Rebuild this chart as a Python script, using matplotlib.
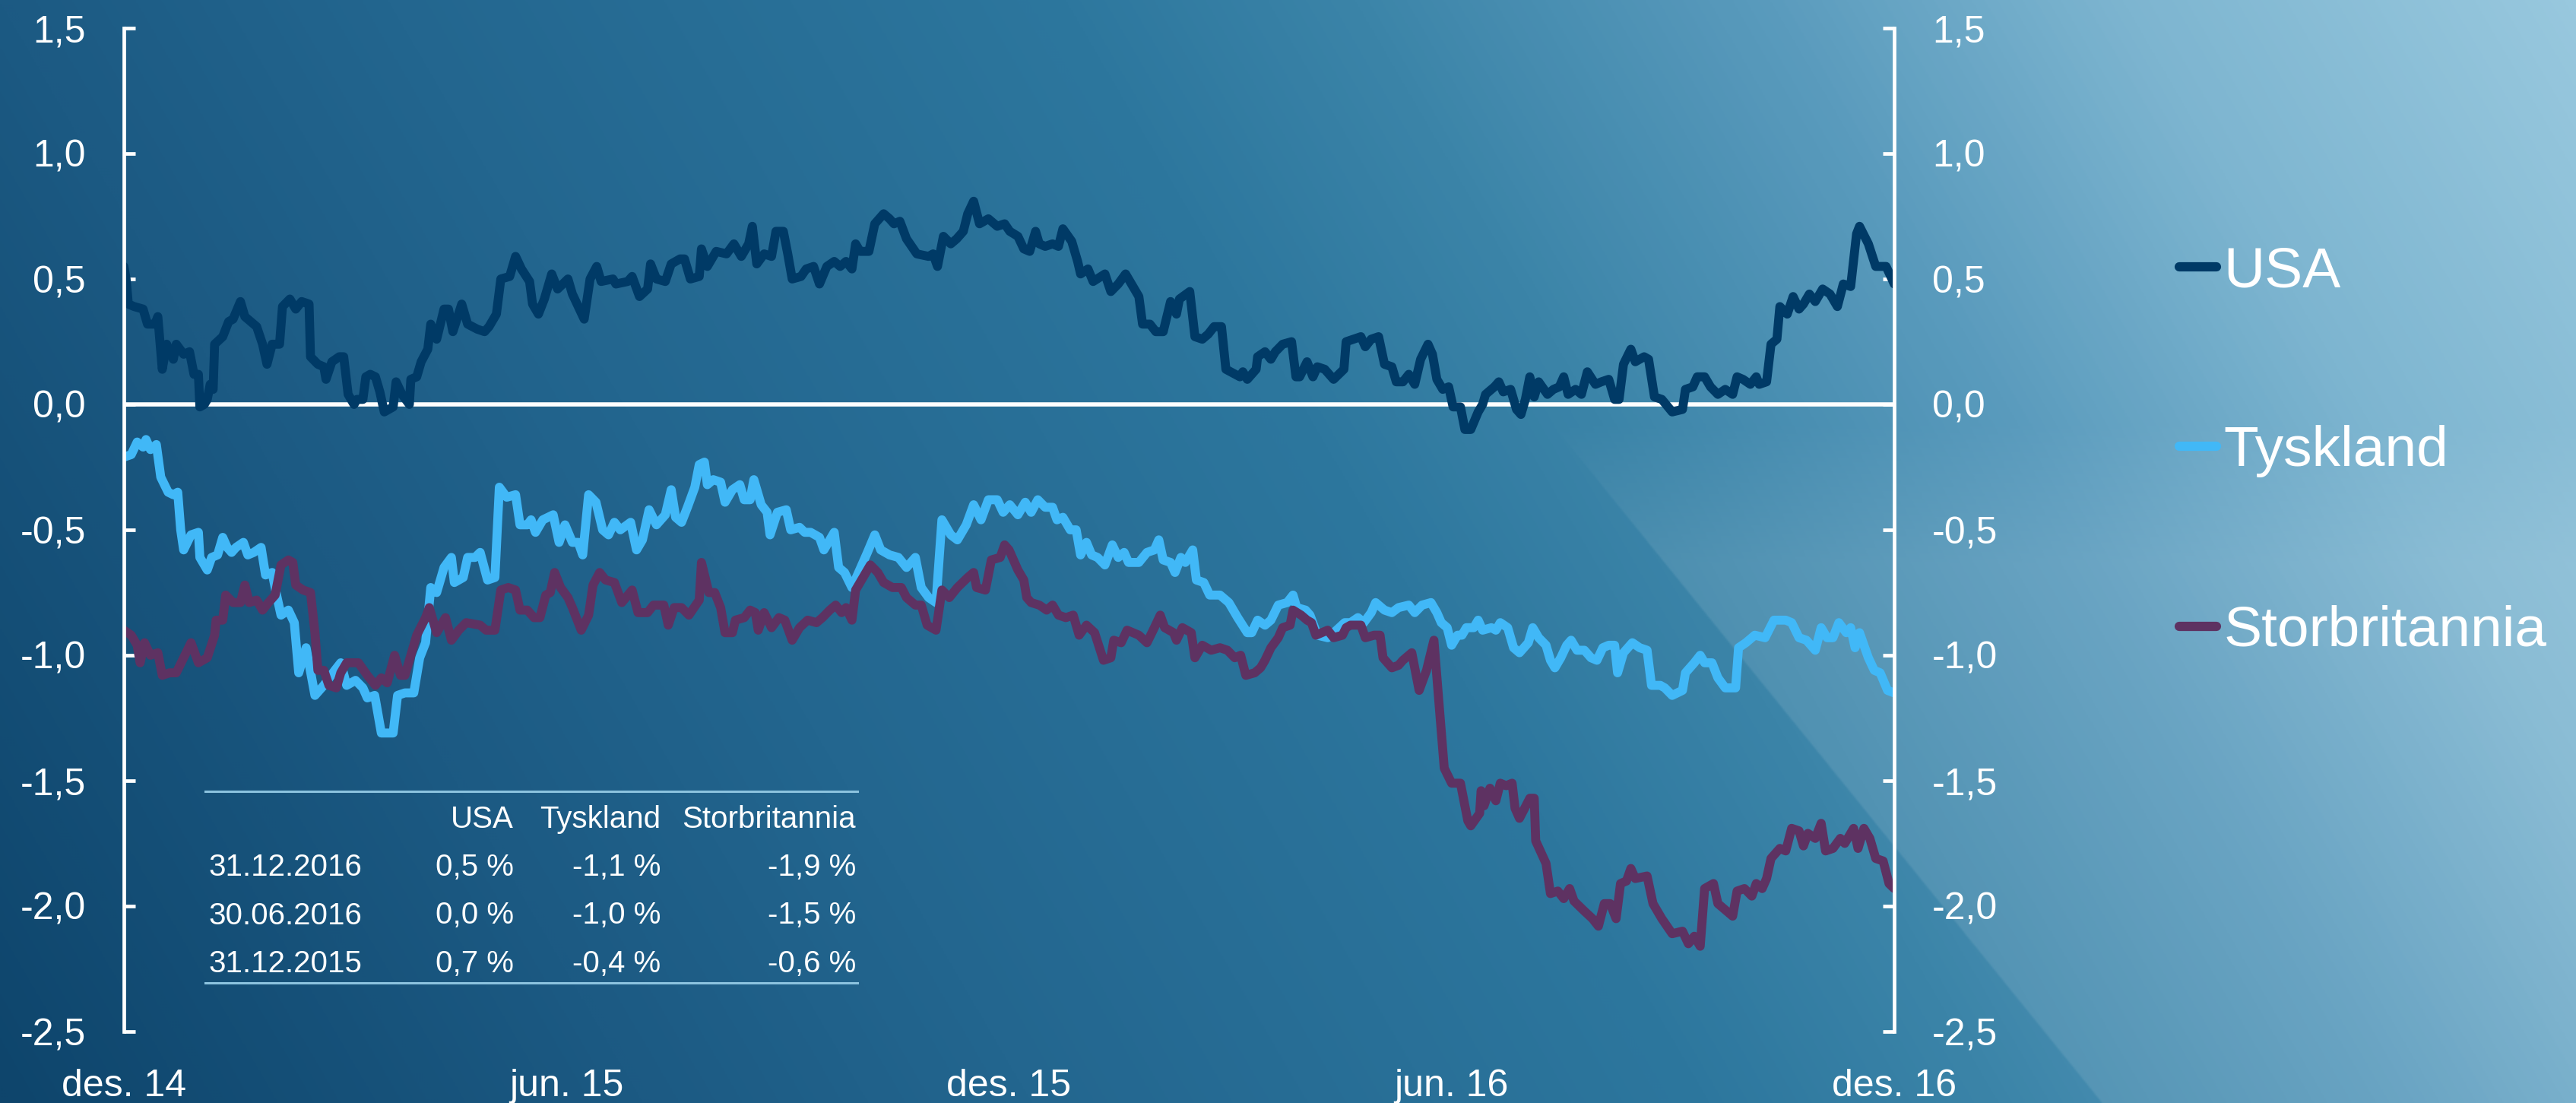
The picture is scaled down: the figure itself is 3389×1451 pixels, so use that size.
import numpy as np
import matplotlib
matplotlib.use("Agg")
import matplotlib.pyplot as plt
from matplotlib.colors import LinearSegmentedColormap
from matplotlib.lines import Line2D

plt.rcParams['font.family'] = ['Liberation Sans', 'DejaVu Sans']

# months after end of Dec 2014, value in percent
usa = [(0.00, 0.55), (0.03, 0.50), (0.06, 0.40), (0.14, 0.39), (0.26, 0.38), (0.32, 0.32), (0.42, 0.32), (0.46, 0.35), (0.52, 0.14),
       (0.58, 0.24), (0.67, 0.18), (0.71, 0.24), (0.81, 0.20), (0.89, 0.21), (0.95, 0.12), (1.01, 0.12), (1.03, -0.01),
       (1.09, 0.00), (1.13, 0.02), (1.17, 0.08), (1.21, 0.06), (1.23, 0.24), (1.34, 0.27), (1.42, 0.33), (1.48, 0.34),
       (1.58, 0.41), (1.64, 0.35), (1.80, 0.31), (1.88, 0.24), (1.94, 0.16), (2.01, 0.24), (2.11, 0.24), (2.15, 0.39),
       (2.25, 0.42), (2.33, 0.38), (2.41, 0.41), (2.51, 0.40), (2.53, 0.19), (2.63, 0.16), (2.71, 0.15), (2.74, 0.10),
       (2.82, 0.17), (2.92, 0.19), (2.98, 0.19), (3.04, 0.04), (3.12, 0.00), (3.16, 0.02), (3.24, 0.02), (3.28, 0.11),
       (3.34, 0.12), (3.41, 0.11), (3.47, 0.05), (3.53, -0.03), (3.65, -0.01), (3.69, 0.09), (3.77, 0.04), (3.87, 0.00),
       (3.89, 0.10), (3.97, 0.11), (4.03, 0.17), (4.12, 0.22), (4.16, 0.32), (4.24, 0.26), (4.34, 0.38), (4.40, 0.38),
       (4.46, 0.29), (4.58, 0.40), (4.66, 0.32), (4.79, 0.30), (4.89, 0.29), (4.95, 0.31), (5.05, 0.36), (5.11, 0.50),
       (5.23, 0.51), (5.31, 0.59), (5.39, 0.54), (5.50, 0.49), (5.54, 0.40), (5.62, 0.36), (5.70, 0.42), (5.80, 0.52),
       (5.88, 0.46), (6.02, 0.50), (6.08, 0.44), (6.24, 0.34), (6.32, 0.50), (6.41, 0.55), (6.47, 0.49), (6.63, 0.50),
       (6.67, 0.48), (6.83, 0.49), (6.89, 0.51), (6.99, 0.43), (7.10, 0.46), (7.14, 0.56), (7.22, 0.50), (7.34, 0.49),
       (7.42, 0.56), (7.54, 0.58), (7.60, 0.58), (7.68, 0.50), (7.80, 0.51), (7.83, 0.62), (7.91, 0.55), (8.03, 0.61),
       (8.17, 0.60), (8.27, 0.64), (8.37, 0.59), (8.47, 0.64), (8.52, 0.71), (8.58, 0.56), (8.68, 0.60), (8.78, 0.59),
       (8.84, 0.69), (8.94, 0.69), (9.00, 0.60), (9.06, 0.50), (9.18, 0.51), (9.25, 0.54), (9.35, 0.55), (9.43, 0.48),
       (9.53, 0.55), (9.63, 0.57), (9.71, 0.55), (9.79, 0.57), (9.87, 0.54), (9.92, 0.64), (9.98, 0.61), (10.10, 0.61),
       (10.18, 0.72), (10.30, 0.76), (10.38, 0.74), (10.44, 0.72), (10.52, 0.73), (10.61, 0.66), (10.75, 0.60),
       (10.91, 0.59), (10.97, 0.60), (11.03, 0.55), (11.11, 0.67), (11.21, 0.64), (11.29, 0.66), (11.38, 0.69),
       (11.44, 0.76), (11.52, 0.81), (11.60, 0.72), (11.72, 0.74), (11.84, 0.71), (11.94, 0.72), (12.01, 0.69),
       (12.12, 0.67), (12.20, 0.62), (12.28, 0.61), (12.36, 0.69), (12.41, 0.64), (12.49, 0.63), (12.59, 0.64),
       (12.67, 0.63), (12.73, 0.70), (12.85, 0.65), (12.93, 0.57), (12.97, 0.52), (13.07, 0.54), (13.14, 0.49),
       (13.30, 0.52), (13.38, 0.45), (13.48, 0.48), (13.58, 0.52), (13.66, 0.48), (13.76, 0.43), (13.81, 0.32),
       (13.91, 0.32), (13.99, 0.29), (14.09, 0.29), (14.19, 0.41), (14.27, 0.36), (14.31, 0.42), (14.45, 0.45),
       (14.52, 0.27), (14.62, 0.26), (14.70, 0.28), (14.78, 0.31), (14.88, 0.31), (14.94, 0.14), (15.13, 0.11),
       (15.17, 0.13), (15.23, 0.10), (15.35, 0.14), (15.37, 0.19), (15.47, 0.21), (15.55, 0.18), (15.61, 0.21),
       (15.71, 0.24), (15.83, 0.25), (15.89, 0.11), (15.94, 0.11), (16.04, 0.17), (16.12, 0.11), (16.18, 0.15),
       (16.28, 0.14), (16.40, 0.10), (16.54, 0.14), (16.57, 0.25), (16.67, 0.26), (16.77, 0.27), (16.83, 0.23),
       (16.91, 0.26), (17.01, 0.27), (17.09, 0.16), (17.19, 0.15), (17.25, 0.09), (17.34, 0.09), (17.42, 0.12),
       (17.50, 0.08), (17.58, 0.18), (17.68, 0.24), (17.74, 0.20), (17.80, 0.10), (17.88, 0.06), (17.96, 0.07),
       (18.02, -0.01), (18.12, -0.01), (18.18, -0.10), (18.26, -0.10), (18.36, -0.03), (18.42, 0.00), (18.46, 0.04),
       (18.58, 0.07), (18.64, 0.09), (18.70, 0.05), (18.80, 0.06), (18.88, -0.02), (18.94, -0.04), (19.00, 0.02),
       (19.06, 0.11), (19.12, 0.03), (19.18, 0.09), (19.30, 0.04), (19.38, 0.06), (19.46, 0.07), (19.52, 0.11),
       (19.58, 0.04), (19.68, 0.06), (19.76, 0.04), (19.84, 0.13), (19.95, 0.08), (20.03, 0.09), (20.13, 0.10),
       (20.21, 0.02), (20.27, 0.02), (20.33, 0.16), (20.43, 0.22), (20.49, 0.17), (20.61, 0.19), (20.67, 0.18),
       (20.75, 0.03), (20.85, 0.02), (20.99, -0.03), (21.13, -0.02), (21.17, 0.06), (21.27, 0.07), (21.33, 0.11),
       (21.43, 0.11), (21.51, 0.07), (21.61, 0.04), (21.71, 0.06), (21.81, 0.04), (21.87, 0.11), (21.95, 0.10),
       (22.05, 0.08), (22.13, 0.11), (22.17, 0.08), (22.27, 0.09), (22.33, 0.24), (22.41, 0.26), (22.45, 0.39),
       (22.55, 0.36), (22.63, 0.43), (22.71, 0.38), (22.77, 0.40), (22.85, 0.44), (22.93, 0.41), (23.03, 0.46),
       (23.13, 0.44), (23.23, 0.39), (23.31, 0.48), (23.41, 0.47), (23.49, 0.68), (23.53, 0.71), (23.65, 0.64),
       (23.75, 0.55), (23.89, 0.55), (23.97, 0.50), (24.00, 0.48)]

tyskland = [(0.00, -0.21), (0.10, -0.20), (0.18, -0.15), (0.26, -0.17), (0.30, -0.14), (0.36, -0.18), (0.44, -0.16),
            (0.50, -0.29), (0.60, -0.35), (0.67, -0.36), (0.73, -0.35), (0.77, -0.50), (0.81, -0.58), (0.91, -0.52),
            (1.01, -0.51), (1.03, -0.61), (1.13, -0.66), (1.19, -0.61), (1.27, -0.60), (1.34, -0.53), (1.40, -0.57),
            (1.46, -0.59), (1.52, -0.57), (1.62, -0.55), (1.68, -0.60), (1.76, -0.59), (1.86, -0.57), (1.92, -0.68),
            (2.01, -0.67), (2.07, -0.76), (2.13, -0.84), (2.23, -0.82), (2.31, -0.87), (2.37, -1.07), (2.47, -0.97),
            (2.59, -1.16), (2.71, -1.12), (2.86, -1.06), (2.94, -1.03), (3.02, -1.12), (3.14, -1.10), (3.24, -1.13),
            (3.30, -1.17), (3.40, -1.16), (3.49, -1.31), (3.65, -1.31), (3.71, -1.16), (3.81, -1.15), (3.93, -1.15),
            (4.01, -1.01), (4.09, -0.95), (4.16, -0.73), (4.24, -0.75), (4.34, -0.65), (4.44, -0.61), (4.48, -0.71),
            (4.60, -0.69), (4.66, -0.61), (4.76, -0.61), (4.83, -0.59), (4.93, -0.70), (5.03, -0.69), (5.09, -0.33),
            (5.19, -0.37), (5.31, -0.36), (5.37, -0.48), (5.47, -0.48), (5.52, -0.46), (5.58, -0.51), (5.68, -0.46),
            (5.82, -0.44), (5.90, -0.55), (5.98, -0.48), (6.08, -0.55), (6.16, -0.55), (6.22, -0.60), (6.30, -0.36),
            (6.40, -0.39), (6.49, -0.50), (6.57, -0.52), (6.65, -0.47), (6.73, -0.50), (6.87, -0.47), (6.95, -0.58),
            (7.03, -0.54), (7.12, -0.42), (7.22, -0.48), (7.34, -0.44), (7.42, -0.34), (7.48, -0.45), (7.56, -0.47),
            (7.64, -0.41), (7.74, -0.33), (7.80, -0.24), (7.87, -0.23), (7.91, -0.32), (7.99, -0.30), (8.09, -0.31),
            (8.15, -0.39), (8.25, -0.34), (8.35, -0.32), (8.41, -0.38), (8.49, -0.38), (8.54, -0.30), (8.64, -0.40),
            (8.72, -0.43), (8.76, -0.52), (8.86, -0.43), (8.98, -0.42), (9.04, -0.50), (9.16, -0.49), (9.23, -0.51),
            (9.31, -0.51), (9.43, -0.53), (9.49, -0.58), (9.63, -0.51), (9.69, -0.65), (9.77, -0.67), (9.87, -0.73),
            (9.96, -0.67), (10.08, -0.59), (10.18, -0.52), (10.26, -0.58), (10.38, -0.60), (10.50, -0.61),
            (10.61, -0.65), (10.73, -0.61), (10.81, -0.73), (10.91, -0.77), (11.01, -0.79), (11.09, -0.46),
            (11.21, -0.52), (11.30, -0.54), (11.42, -0.48), (11.52, -0.40), (11.62, -0.46), (11.72, -0.38),
            (11.84, -0.38), (11.92, -0.43), (12.01, -0.40), (12.12, -0.44), (12.22, -0.39), (12.30, -0.43),
            (12.39, -0.38), (12.49, -0.41), (12.59, -0.41), (12.65, -0.46), (12.73, -0.45), (12.83, -0.50),
            (12.91, -0.50), (12.97, -0.60), (13.05, -0.55), (13.12, -0.60), (13.20, -0.61), (13.30, -0.64),
            (13.40, -0.56), (13.48, -0.61), (13.56, -0.59), (13.62, -0.63), (13.76, -0.63), (13.87, -0.59),
            (13.97, -0.58), (14.03, -0.54), (14.09, -0.62), (14.19, -0.63), (14.25, -0.67), (14.33, -0.61),
            (14.39, -0.63), (14.49, -0.58), (14.54, -0.70), (14.64, -0.71), (14.72, -0.76), (14.86, -0.76),
            (14.98, -0.79), (15.10, -0.85), (15.23, -0.91), (15.29, -0.91), (15.37, -0.86), (15.47, -0.88),
            (15.55, -0.86), (15.65, -0.80), (15.77, -0.79), (15.85, -0.76), (15.90, -0.81), (16.02, -0.82),
            (16.08, -0.84), (16.18, -0.92), (16.32, -0.93), (16.44, -0.90), (16.55, -0.87), (16.63, -0.87),
            (16.73, -0.85), (16.81, -0.87), (16.91, -0.83), (16.97, -0.79), (17.09, -0.82), (17.19, -0.83),
            (17.28, -0.81), (17.42, -0.80), (17.50, -0.83), (17.60, -0.80), (17.72, -0.79), (17.80, -0.83),
            (17.86, -0.87), (17.94, -0.89), (18.00, -0.96), (18.08, -0.92), (18.14, -0.92), (18.20, -0.89),
            (18.30, -0.89), (18.36, -0.86), (18.42, -0.90), (18.54, -0.89), (18.60, -0.90), (18.66, -0.87),
            (18.76, -0.89), (18.84, -0.97), (18.92, -0.99), (19.04, -0.95), (19.10, -0.89), (19.18, -0.93),
            (19.28, -0.96), (19.34, -1.02), (19.40, -1.05), (19.48, -1.01), (19.56, -0.96), (19.62, -0.94),
            (19.70, -0.98), (19.80, -0.98), (19.89, -1.01), (19.97, -1.02), (20.05, -0.97), (20.13, -0.96),
            (20.21, -0.96), (20.25, -1.07), (20.33, -0.99), (20.45, -0.95), (20.55, -0.97), (20.65, -0.98),
            (20.71, -1.12), (20.83, -1.12), (20.89, -1.13), (20.99, -1.16), (21.13, -1.14), (21.17, -1.07),
            (21.29, -1.03), (21.37, -1.00), (21.43, -1.03), (21.53, -1.03), (21.61, -1.09), (21.71, -1.13),
            (21.85, -1.13), (21.89, -0.97), (21.99, -0.95), (22.11, -0.92), (22.25, -0.93), (22.37, -0.86),
            (22.53, -0.86), (22.61, -0.87), (22.71, -0.93), (22.81, -0.94), (22.93, -0.98), (23.01, -0.89),
            (23.09, -0.93), (23.17, -0.93), (23.25, -0.87), (23.35, -0.91), (23.41, -0.89), (23.47, -0.97),
            (23.53, -0.91), (23.65, -1.01), (23.73, -1.06), (23.81, -1.07), (23.91, -1.14), (24.00, -1.15)]

storbritannia = [(0.00, -0.90), (0.10, -0.92), (0.18, -0.96), (0.22, -1.03), (0.28, -0.95), (0.36, -1.00),
                 (0.46, -0.99), (0.52, -1.08), (0.62, -1.07), (0.71, -1.07), (0.81, -1.01), (0.91, -0.95),
                 (1.01, -1.03), (1.13, -1.01), (1.23, -0.92), (1.25, -0.86), (1.34, -0.86), (1.38, -0.76),
                 (1.48, -0.79), (1.58, -0.79), (1.64, -0.72), (1.70, -0.79), (1.80, -0.78), (1.88, -0.82),
                 (1.96, -0.79), (2.05, -0.76), (2.13, -0.64), (2.23, -0.62), (2.29, -0.63), (2.33, -0.72),
                 (2.43, -0.74), (2.53, -0.75), (2.59, -0.91), (2.63, -1.06), (2.71, -1.06), (2.78, -1.12),
                 (2.88, -1.13), (2.94, -1.07), (3.02, -1.03), (3.18, -1.03), (3.30, -1.08), (3.41, -1.12),
                 (3.49, -1.09), (3.57, -1.11), (3.67, -1.00), (3.75, -1.08), (3.81, -1.08), (3.89, -1.00),
                 (3.97, -0.92), (4.09, -0.85), (4.14, -0.81), (4.24, -0.91), (4.36, -0.85), (4.44, -0.94),
                 (4.54, -0.90), (4.64, -0.87), (4.83, -0.88), (4.91, -0.90), (5.03, -0.90), (5.11, -0.74),
                 (5.21, -0.73), (5.31, -0.74), (5.37, -0.82), (5.47, -0.82), (5.56, -0.85), (5.64, -0.85),
                 (5.72, -0.76), (5.78, -0.75), (5.84, -0.67), (5.92, -0.73), (6.02, -0.77), (6.08, -0.81),
                 (6.20, -0.90), (6.30, -0.84), (6.36, -0.72), (6.45, -0.67), (6.53, -0.70), (6.65, -0.71),
                 (6.75, -0.79), (6.89, -0.74), (6.97, -0.83), (7.10, -0.83), (7.18, -0.80), (7.32, -0.80),
                 (7.38, -0.88), (7.46, -0.81), (7.56, -0.81), (7.66, -0.84), (7.80, -0.78), (7.83, -0.63),
                 (7.93, -0.75), (8.01, -0.75), (8.09, -0.81), (8.15, -0.91), (8.25, -0.91), (8.29, -0.86),
                 (8.41, -0.85), (8.49, -0.82), (8.56, -0.83), (8.60, -0.90), (8.68, -0.83), (8.78, -0.89),
                 (8.88, -0.85), (8.96, -0.86), (9.06, -0.94), (9.16, -0.89), (9.27, -0.86), (9.39, -0.87),
                 (9.47, -0.85), (9.57, -0.82), (9.65, -0.80), (9.73, -0.83), (9.79, -0.81), (9.87, -0.86),
                 (9.92, -0.74), (10.02, -0.69), (10.12, -0.64), (10.22, -0.67), (10.30, -0.71), (10.42, -0.73),
                 (10.54, -0.73), (10.61, -0.77), (10.73, -0.80), (10.81, -0.80), (10.89, -0.88), (11.01, -0.90),
                 (11.09, -0.74), (11.19, -0.77), (11.30, -0.73), (11.44, -0.69), (11.52, -0.67), (11.56, -0.73),
                 (11.68, -0.74), (11.76, -0.62), (11.88, -0.61), (11.94, -0.56), (12.00, -0.58), (12.12, -0.66),
                 (12.20, -0.70), (12.24, -0.77), (12.30, -0.79), (12.41, -0.80), (12.51, -0.82), (12.59, -0.80),
                 (12.67, -0.84), (12.77, -0.85), (12.87, -0.84), (12.95, -0.92), (13.05, -0.88), (13.16, -0.91),
                 (13.28, -1.02), (13.38, -1.01), (13.42, -0.94), (13.52, -0.95), (13.60, -0.90), (13.76, -0.92),
                 (13.87, -0.95), (13.97, -0.89), (14.05, -0.84), (14.11, -0.89), (14.23, -0.91), (14.27, -0.94),
                 (14.35, -0.89), (14.47, -0.91), (14.52, -1.01), (14.62, -0.96), (14.74, -0.98), (14.86, -0.97),
                 (14.96, -0.98), (15.06, -1.01), (15.14, -1.00), (15.21, -1.08), (15.33, -1.07), (15.41, -1.05),
                 (15.47, -1.02), (15.55, -0.97), (15.65, -0.93), (15.71, -0.89), (15.81, -0.88), (15.85, -0.82),
                 (15.96, -0.84), (16.04, -0.86), (16.10, -0.87), (16.16, -0.92), (16.32, -0.90), (16.40, -0.93),
                 (16.52, -0.92), (16.57, -0.89), (16.63, -0.88), (16.77, -0.88), (16.83, -0.93), (16.95, -0.92),
                 (17.03, -0.92), (17.07, -1.01), (17.19, -1.05), (17.28, -1.04), (17.34, -1.02), (17.46, -0.99),
                 (17.56, -1.14), (17.66, -1.06), (17.76, -0.94), (17.84, -1.23), (17.90, -1.45), (18.00, -1.51),
                 (18.12, -1.51), (18.22, -1.66), (18.26, -1.68), (18.38, -1.63), (18.40, -1.54), (18.44, -1.60),
                 (18.52, -1.53), (18.60, -1.58), (18.66, -1.51), (18.74, -1.52), (18.82, -1.51), (18.86, -1.61),
                 (18.92, -1.65), (19.06, -1.57), (19.12, -1.57), (19.14, -1.74), (19.28, -1.83), (19.34, -1.95),
                 (19.44, -1.94), (19.52, -1.97), (19.60, -1.93), (19.66, -1.98), (19.80, -2.02), (19.91, -2.05),
                 (19.99, -2.08), (20.07, -1.99), (20.15, -1.99), (20.23, -2.05), (20.29, -1.91), (20.37, -1.90),
                 (20.43, -1.85), (20.49, -1.89), (20.65, -1.88), (20.73, -1.99), (20.85, -2.05), (20.99, -2.11),
                 (21.13, -2.10), (21.21, -2.15), (21.29, -2.12), (21.37, -2.16), (21.43, -1.93), (21.55, -1.91),
                 (21.61, -1.99), (21.69, -2.01), (21.81, -2.04), (21.87, -1.94), (21.97, -1.93), (22.07, -1.96),
                 (22.13, -1.91), (22.21, -1.93), (22.27, -1.89), (22.33, -1.81), (22.45, -1.77), (22.53, -1.78),
                 (22.61, -1.69), (22.71, -1.70), (22.77, -1.76), (22.83, -1.71), (22.93, -1.73), (23.01, -1.67),
                 (23.07, -1.78), (23.17, -1.77), (23.27, -1.73), (23.33, -1.75), (23.45, -1.69), (23.51, -1.77),
                 (23.59, -1.69), (23.67, -1.73), (23.75, -1.81), (23.85, -1.82), (23.93, -1.91), (24.00, -1.93)]

series_names = ["USA", "Tyskland", "Storbritannia"]
series_colors = ["#003a66", "#41b8f7", "#5e3262"]
month_ticks = [0, 6, 12, 18, 24]
month_labels = ["des. 14", "jun. 15", "des. 15", "jun. 16", "des. 16"]
y_ticks = [-2.5, -2.0, -1.5, -1.0, -0.5, 0.0, 0.5, 1.0, 1.5]

table_dates = ["31.12.2016", "30.06.2016", "31.12.2015"]
table_values = [[0.5, -1.1, -1.9],
                [0.0, -1.0, -1.5],
                [0.7, -0.4, -0.6]]

W, H = 3389, 1451
fig = plt.figure(figsize=(W / 100, H / 100), dpi=100)

# background gradient with a lighter wedge at lower right
bg_cmap = LinearSegmentedColormap.from_list("bg", [
    (0.00, "#0e456c"), (0.20, "#1c5a83"), (0.32, "#23668f"), (0.53, "#2d779e"),
    (0.62, "#3b84a8"), (0.75, "#5a9bbd"), (0.86, "#7db5d0"), (1.00, "#98c8de")])
ys, xs = np.mgrid[0:H:2, 0:W:2].astype(float)
s = 0.8 * xs / W + 0.2 * (1 - ys / H)
img = bg_cmap(s)[..., :3]
edge = xs - (2143 + (ys - 684) / 1.235)
wedge = np.clip(edge / 3, 0, 1) * np.clip((ys - 560) / 180, 0, 1)
img = img + wedge[..., None] * 0.10 * (1 - img)
bg = fig.add_axes([0, 0, 1, 1], zorder=0)
bg.imshow(img, extent=[0, 1, 0, 1], aspect="auto", interpolation="bilinear")
bg.axis("off")

ax = fig.add_axes([163 / W, 1 - 1357 / H, (2492 - 163) / W, (1357 - 37) / H], zorder=1)
ax.set_facecolor("none")

ax.axhline(0, color="white", lw=4, zorder=1.5)
for data, name, col in zip([usa, tyskland, storbritannia], series_names, series_colors):
    arr = np.array(data)
    ax.plot(arr[:, 0], arr[:, 1], color=col, lw=8.5, solid_joinstyle="round",
            solid_capstyle="round", label=name, zorder=2)

ax.set_xlim(0, 24)
ax.set_ylim(-2.5, 1.5)
ax.set_xticks(month_ticks)
ax.set_xticklabels(month_labels)
ax.set_yticks(y_ticks)
ax.set_yticklabels([f"{t:.1f}".replace(".", ",") for t in y_ticks])

for side in ["top", "bottom"]:
    ax.spines[side].set_visible(False)
for side in ["left", "right"]:
    ax.spines[side].set_color("white")
    ax.spines[side].set_linewidth(3.4)

ax.tick_params(axis="y", which="both", direction="in", length=11, width=3.4, color="white",
               labelcolor="white", labelsize=36, left=True, right=True, labelleft=True,
               labelright=True, pad=36)
ax.tick_params(axis="x", length=0, labelcolor="white", labelsize=36, pad=35)

handles = [Line2D([], [], color=c, lw=8.8, solid_capstyle="round") for c in series_colors]
leg = ax.legend(handles, series_names, loc="center left", bbox_to_anchor=(2867 / W, 1 - 594 / H),
                bbox_transform=fig.transFigure, frameon=False, fontsize=54, handlelength=0.65,
                handletextpad=0.13, labelspacing=2.23, borderpad=0, borderaxespad=0)
for t in leg.get_texts():
    t.set_color("white")

# summary table
tx = lambda px: px / W
ty = lambda py: 1 - py / H
rule_col = "#8cc3df"
for py in [1041, 1293]:
    fig.add_artist(Line2D([tx(270), tx(1128)], [ty(py), ty(py)], color=rule_col, lw=2.2))
col_right = [676, 869, 1126]
for name, xr in zip(series_names, col_right):
    fig.text(tx(xr), ty(1089), name, color="white", fontsize=29, ha="right", va="baseline")
for i, (d, vals) in enumerate(zip(table_dates, table_values)):
    yb = 1152 + i * 63.5
    fig.text(tx(274), ty(yb), d, color="white", fontsize=29, ha="left", va="baseline")
    for v, xr in zip(vals, col_right):
        fig.text(tx(xr), ty(yb), f"{v:.1f} %".replace(".", ","), color="white", fontsize=29,
                 ha="right", va="baseline")

fig.savefig("out.png", dpi=100)
